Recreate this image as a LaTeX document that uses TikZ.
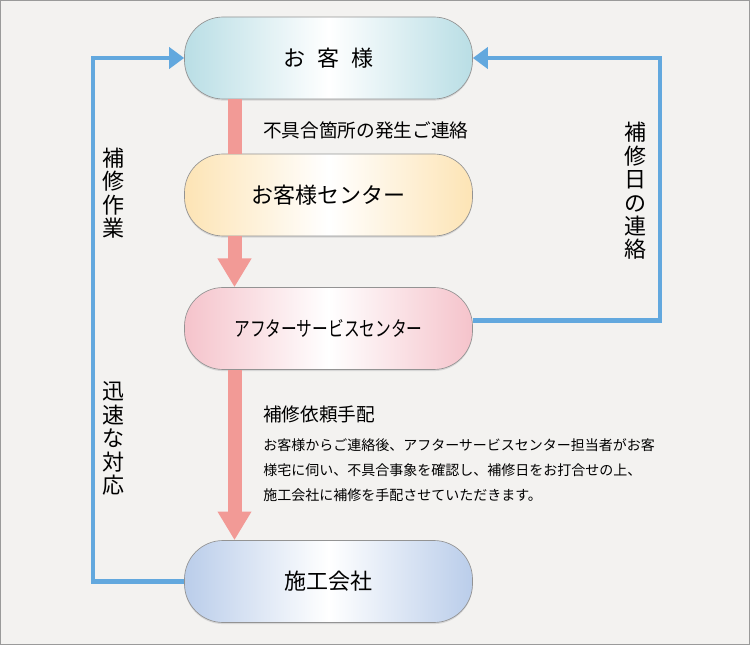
\documentclass[tikz,border=0pt]{standalone}
\usepackage{fontspec}
\usepackage{graphicx}
\newfontfamily\jp{Noto Sans CJK JP}
\usetikzlibrary{arrows.meta,shadows}
\definecolor{fond}{HTML}{F3F2F0}
\definecolor{cadre}{HTML}{9A9A9A}
\definecolor{bleu}{HTML}{62A8DE}
\definecolor{rouge}{HTML}{F29A96}
\definecolor{cyanclair}{HTML}{B9DEE5}
\definecolor{jauneclair}{HTML}{FDE4B5}
\definecolor{roseclair}{HTML}{F5C3CB}
\definecolor{bleuclair}{HTML}{BACDEA}

\begin{document}
\begin{tikzpicture}[x=0.75pt, y=-0.75pt]
\tikzset{boite/.style={draw=gray!85, line width=0.5pt, rounded corners=29pt, minimum width=216pt, minimum height=61.5pt, inner sep=0pt, left color=#1, right color=#1, middle color=white, drop shadow={shadow xshift=0pt, shadow yshift=-1.2pt, fill=black!18, opacity=0.8}, font=\jp\fontsize{16.5}{18}\selectfont}}
\tikzset{fleche/.style={rouge, line width=10.5pt, -{Triangle[width=24pt, length=21.5pt]}}}
\tikzset{barre/.style={rouge, line width=10.5pt}}
\tikzset{retour/.style={bleu, line width=3.4pt, -{Triangle[width=15.75pt, length=11.25pt]}}}
\tikzset{vertical/.style={align=center, inner sep=0pt, font=\jp\fontsize{16.5}{17.6}\selectfont}}
\tikzset{legende/.style={anchor=west, inner sep=0pt, font=\jp\fontsize{14}{16}\selectfont}}
\useasboundingbox (0,0) rectangle (750,645);
\fill[fond, draw=cadre, line width=0.75pt] (0.5,0.5) rectangle (749.5,644.5);
\node[boite=cyanclair] (kyaku) at (328.5,58) {お\hspace{9pt}客\hspace{9pt}様};
\node[boite=jauneclair] (center) at (328.5,195) {お客様センター};
\node[boite=roseclair] (after) at (328.5,328.5) {\scalebox{0.76}[1]{\fontsize{15.5}{18}\selectfont アフターサービスセンター}};
\node[boite=bleuclair] (sekou) at (328.5,581.5) {施工会社};
\draw[barre] ([xshift=-70.5pt]kyaku.south) -- ([xshift=-70.5pt]center.north);
\draw[fleche] ([xshift=-70.5pt]center.south) -- ([xshift=-70.5pt]after.north);
\draw[fleche] ([xshift=-70.5pt]after.south) -- ([xshift=-70.5pt]sekou.north);
\draw[retour] (sekou.west) -- ++(-91,0) |- (kyaku.west);
\draw[retour] ([yshift=6pt]after.east) -- ++(187,0) |- (kyaku.east);
\node[legende] (renraku) at (263,130) {不具合箇所の発生ご連絡};
\node[legende] (tehai) at (263,414) {補修依頼手配};
\node[anchor=north west, align=left, inner sep=0pt, font=\jp\fontsize{10.5}{18.75}\selectfont] (detail) at (263,438) {お客様からご連絡後、アフターサービスセンター担当者がお客\\様宅に伺い、不具合事象を確認し、補修日をお打合せの上、\\施工会社に補修を手配させていただきます。};
\node[vertical] (sagyou) at (113,193) {補\\修\\作\\業};
\node[vertical] (taiou) at (113.5,438.5) {迅\\速\\な\\対\\応};
\node[vertical] (hoshubi) at (635,191) {補\\修\\日\\の\\連\\絡};
\end{tikzpicture}
\end{document}
